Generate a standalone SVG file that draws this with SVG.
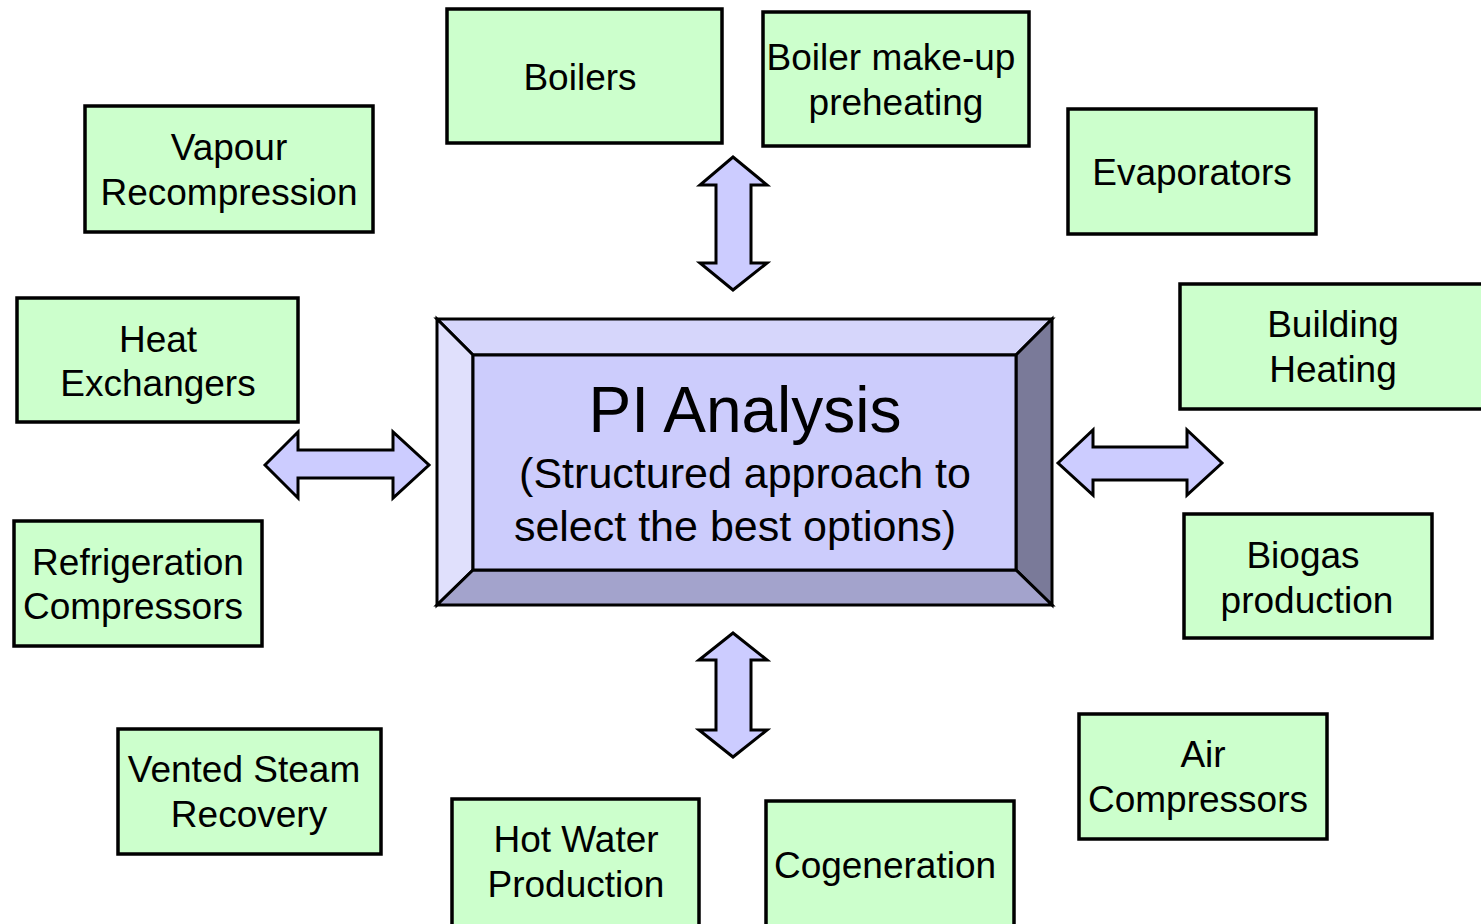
<svg xmlns="http://www.w3.org/2000/svg" width="1481" height="924" viewBox="0 0 1481 924">
<style>
.box{fill:#ccffcc;stroke:#000;stroke-width:3.5}
.lbl{font-family:"Liberation Sans",Arial,sans-serif;font-size:37px;fill:#000;text-anchor:middle}
.arr{fill:#ccccff;stroke:#000;stroke-width:3;stroke-linejoin:miter}
.bev{stroke:#000;stroke-width:3;stroke-linejoin:miter}
</style>
<rect width="1481" height="924" fill="#fff"/>
<g id="connectors">
<polygon class="arr" points="733,157 767,185 751,185 751,263 767,263 733,290 700,263 716,263 716,185 700,185"/>
<polygon class="arr" points="733,633 767,660 751,660 751,730 767,730 733,757 699,730 716,730 716,660 699,660"/>
<polygon class="arr" points="265,465 298,432 298,450 393,450 393,432 429,465 393,498 393,478 298,478 298,498"/>
<polygon class="arr" points="1058,463 1093,430 1093,447 1187,447 1187,430 1222,463 1187,495 1187,480 1093,480 1093,495"/>
</g>
<g id="pi-analysis">
<polygon class="bev" fill="#d6d6fb" points="437,319 1052,319 1016,355 473,355"/>
<polygon class="bev" fill="#e0e0fc" points="437,319 473,355 473,570 437,605"/>
<polygon class="bev" fill="#7a7a99" points="1052,319 1052,605 1016,570 1016,355"/>
<polygon class="bev" fill="#a3a3cc" points="437,605 473,570 1016,570 1052,605"/>
<rect class="bev" fill="#ccccfc" x="473" y="355" width="543" height="215"/>
<text x="745" y="432" font-family="'Liberation Sans',Arial,sans-serif" font-size="64" text-anchor="middle">PI Analysis</text>
<text x="745" y="488" font-family="'Liberation Sans',Arial,sans-serif" font-size="43" text-anchor="middle">(Structured approach to</text>
<text x="735" y="541" font-family="'Liberation Sans',Arial,sans-serif" font-size="43" text-anchor="middle">select the best options)</text>
</g>
<g id="boilers">
<rect class="box" x="447" y="9" width="275" height="134"/>
<text class="lbl" x="580" y="90">Boilers</text>
</g>
<g id="boiler-makeup">
<rect class="box" x="763" y="12" width="266" height="134"/>
<text class="lbl" x="891" y="70">Boiler make-up</text>
<text class="lbl" x="896" y="115">preheating</text>
</g>
<g id="vapour-recompression">
<rect class="box" x="85" y="106" width="288" height="126"/>
<text class="lbl" x="229" y="160">Vapour</text>
<text class="lbl" x="229" y="205">Recompression</text>
</g>
<g id="evaporators">
<rect class="box" x="1068" y="109" width="248" height="125"/>
<text class="lbl" x="1192" y="185">Evaporators</text>
</g>
<g id="heat-exchangers">
<rect class="box" x="17" y="298" width="281" height="124"/>
<text class="lbl" x="158" y="352">Heat</text>
<text class="lbl" x="158" y="396">Exchangers</text>
</g>
<g id="building-heating">
<rect class="box" x="1180" y="284" width="310" height="125"/>
<text class="lbl" x="1333" y="337">Building</text>
<text class="lbl" x="1333" y="382">Heating</text>
</g>
<g id="refrigeration-compressors">
<rect class="box" x="14" y="521" width="248" height="125"/>
<text class="lbl" x="138" y="575">Refrigeration</text>
<text class="lbl" x="133" y="619">Compressors</text>
</g>
<g id="biogas-production">
<rect class="box" x="1184" y="514" width="248" height="124"/>
<text class="lbl" x="1303" y="568">Biogas</text>
<text class="lbl" x="1307" y="613">production</text>
</g>
<g id="vented-steam-recovery">
<rect class="box" x="118" y="729" width="263" height="125"/>
<text class="lbl" x="244" y="782">Vented Steam</text>
<text class="lbl" x="249" y="827">Recovery</text>
</g>
<g id="air-compressors">
<rect class="box" x="1079" y="714" width="248" height="125"/>
<text class="lbl" x="1203" y="767">Air</text>
<text class="lbl" x="1198" y="812">Compressors</text>
</g>
<g id="hot-water-production">
<rect class="box" x="452" y="799" width="247" height="140"/>
<text class="lbl" x="576" y="852">Hot Water</text>
<text class="lbl" x="576" y="897">Production</text>
</g>
<g id="cogeneration">
<rect class="box" x="766" y="801" width="248" height="140"/>
<text class="lbl" x="885" y="878">Cogeneration</text>
</g>
</svg>
